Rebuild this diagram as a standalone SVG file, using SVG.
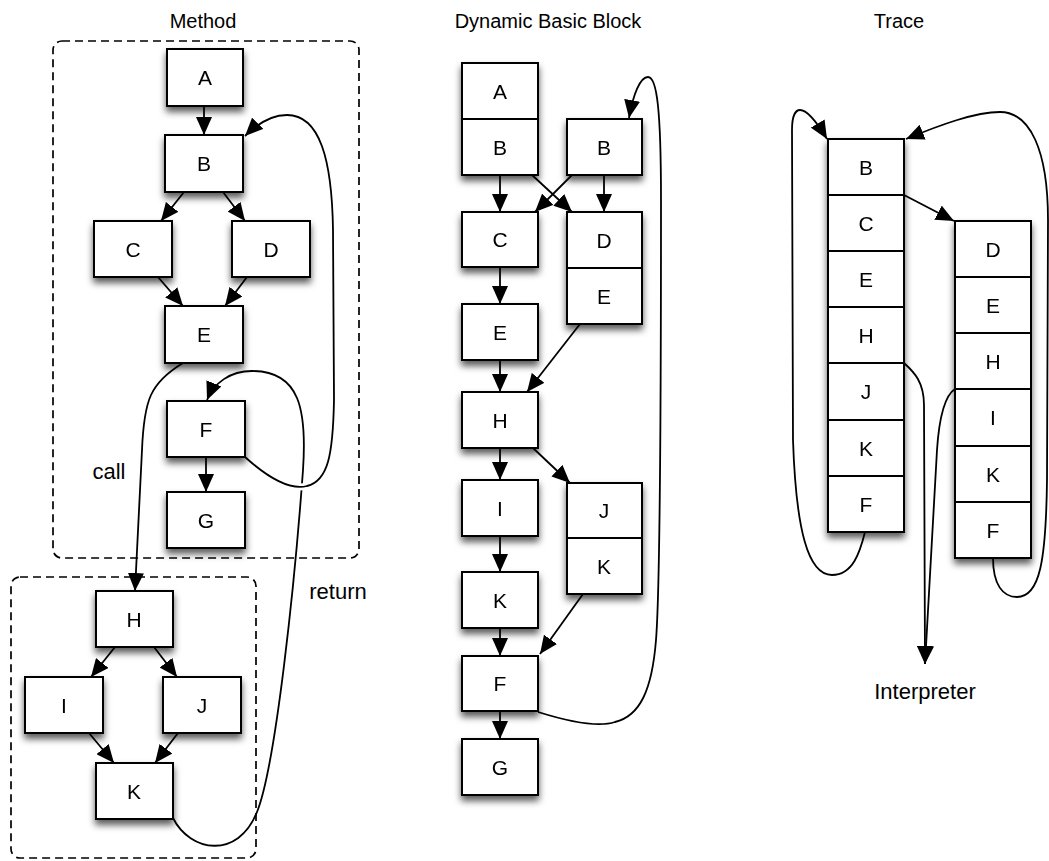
<svg xmlns="http://www.w3.org/2000/svg" width="1049" height="861" viewBox="0 0 1049 861">
  <style>
    .box { fill: #fff; stroke: #000; stroke-width: 2; }
    .div { stroke: #000; stroke-width: 2; fill: none; }
    .lbl { font-family: "Liberation Sans", Arial, sans-serif; font-size: 21px; fill: #000; text-anchor: middle; }
    .note { font-family: "Liberation Sans", Arial, sans-serif; font-size: 22px; fill: #000; text-anchor: middle; }
    .ttl { font-family: "Liberation Sans", Arial, sans-serif; font-size: 20px; fill: #000; text-anchor: middle; }
    .edge { fill: none; stroke: #000; stroke-width: 1.8; marker-end: url(#ah); }
    .halo { fill: none; stroke: #fff; stroke-width: 7; }
    .dash { fill: none; stroke: #000; stroke-width: 1.7; stroke-dasharray: 8 5; }
  </style>
  <defs>
    <filter id="sh" x="-40%" y="-40%" width="180%" height="180%">
      <feGaussianBlur in="SourceAlpha" stdDeviation="3.5"/>
      <feOffset dy="5" result="b"/>
      <feFlood flood-color="#000" flood-opacity="0.65"/>
      <feComposite in2="b" operator="in"/>
      <feMerge><feMergeNode/><feMergeNode in="SourceGraphic"/></feMerge>
    </filter>
    <marker id="ah" markerUnits="userSpaceOnUse" markerWidth="19" markerHeight="16" refX="18" refY="8" orient="auto" viewBox="0 0 19 16">
      <path d="M0,0 L18,8 L0,16 z" fill="#000"/>
    </marker>
  </defs>

  <rect width="1049" height="861" fill="#fff"/>

  <!-- column titles -->
  <text class="ttl" x="203" y="28">Method</text>
  <text class="ttl" x="548" y="28">Dynamic Basic Block</text>
  <text class="ttl" x="899" y="28">Trace</text>

  <!-- ===== Method ===== -->
  <rect id="method-outer" class="dash" x="53" y="41" width="306" height="517" rx="9"/>
  <rect id="method-callee" class="dash" x="11" y="577" width="245" height="281" rx="9"/>

  <g id="m-A" filter="url(#sh)"><rect class="box" x="167" y="49" width="76" height="57"/><text class="lbl" x="205" y="85">A</text></g>
  <g id="m-B" filter="url(#sh)"><rect class="box" x="165" y="135" width="78" height="57"/><text class="lbl" x="204" y="171">B</text></g>
  <g id="m-C" filter="url(#sh)"><rect class="box" x="94" y="221" width="78" height="56"/><text class="lbl" x="133" y="257">C</text></g>
  <g id="m-D" filter="url(#sh)"><rect class="box" x="232" y="221" width="78" height="56"/><text class="lbl" x="271" y="257">D</text></g>
  <g id="m-E" filter="url(#sh)"><rect class="box" x="165" y="306" width="78" height="57"/><text class="lbl" x="204" y="342">E</text></g>
  <g id="m-F" filter="url(#sh)"><rect class="box" x="167" y="401" width="78" height="56"/><text class="lbl" x="206" y="437">F</text></g>
  <g id="m-G" filter="url(#sh)"><rect class="box" x="167" y="492" width="78" height="56"/><text class="lbl" x="206" y="528">G</text></g>
  <g id="m-H" filter="url(#sh)"><rect class="box" x="96" y="591" width="77" height="56"/><text class="lbl" x="134" y="627">H</text></g>
  <g id="m-I" filter="url(#sh)"><rect class="box" x="25" y="677" width="78" height="56"/><text class="lbl" x="64" y="713">I</text></g>
  <g id="m-J" filter="url(#sh)"><rect class="box" x="163" y="677" width="78" height="56"/><text class="lbl" x="202" y="713">J</text></g>
  <g id="m-K" filter="url(#sh)"><rect class="box" x="96" y="763" width="77" height="56"/><text class="lbl" x="134" y="799">K</text></g>

  <text class="note" x="109" y="479">call</text>
  <text class="note" x="338" y="599">return</text>

  <!-- ===== Dynamic Basic Block ===== -->
  <g id="d-AB" filter="url(#sh)">
    <rect class="box" x="462" y="63" width="76" height="112"/>
    <line class="div" x1="462" y1="119" x2="538" y2="119"/>
    <text class="lbl" x="500" y="99">A</text>
    <text class="lbl" x="500" y="155">B</text>
  </g>
  <g id="d-B2" filter="url(#sh)"><rect class="box" x="567" y="119" width="75" height="56"/><text class="lbl" x="604" y="155">B</text></g>
  <g id="d-C" filter="url(#sh)"><rect class="box" x="462" y="212" width="76" height="55"/><text class="lbl" x="500" y="247">C</text></g>
  <g id="d-DE" filter="url(#sh)">
    <rect class="box" x="567" y="212" width="75" height="112"/>
    <line class="div" x1="567" y1="268" x2="642" y2="268"/>
    <text class="lbl" x="604" y="248">D</text>
    <text class="lbl" x="604" y="304">E</text>
  </g>
  <g id="d-E" filter="url(#sh)"><rect class="box" x="462" y="304" width="76" height="56"/><text class="lbl" x="500" y="340">E</text></g>
  <g id="d-H" filter="url(#sh)"><rect class="box" x="462" y="392" width="76" height="56"/><text class="lbl" x="500" y="428">H</text></g>
  <g id="d-I" filter="url(#sh)"><rect class="box" x="462" y="480" width="76" height="56"/><text class="lbl" x="500" y="516">I</text></g>
  <g id="d-JK" filter="url(#sh)">
    <rect class="box" x="567" y="483" width="75" height="111"/>
    <line class="div" x1="567" y1="538" x2="642" y2="538"/>
    <text class="lbl" x="604" y="518">J</text>
    <text class="lbl" x="604" y="574">K</text>
  </g>
  <g id="d-K" filter="url(#sh)"><rect class="box" x="462" y="572" width="76" height="56"/><text class="lbl" x="500" y="608">K</text></g>
  <g id="d-F" filter="url(#sh)"><rect class="box" x="462" y="656" width="76" height="55"/><text class="lbl" x="500" y="691">F</text></g>
  <g id="d-G" filter="url(#sh)"><rect class="box" x="462" y="739" width="76" height="56"/><text class="lbl" x="500" y="775">G</text></g>

  <!-- ===== Trace ===== -->
  <g id="t-main" filter="url(#sh)">
    <rect class="box" x="828" y="139" width="76" height="393"/>
    <path class="div" d="M828,195 H904 M828,251 H904 M828,307 H904 M828,363 H904 M828,420 H904 M828,476 H904"/>
    <text class="lbl" x="866" y="175">B</text>
    <text class="lbl" x="866" y="231">C</text>
    <text class="lbl" x="866" y="287">E</text>
    <text class="lbl" x="866" y="343">H</text>
    <text class="lbl" x="866" y="399">J</text>
    <text class="lbl" x="866" y="456">K</text>
    <text class="lbl" x="866" y="512">F</text>
  </g>
  <g id="t-side" filter="url(#sh)">
    <rect class="box" x="955" y="221" width="76" height="337"/>
    <path class="div" d="M955,277 H1031 M955,333 H1031 M955,389 H1031 M955,446 H1031 M955,502 H1031"/>
    <text class="lbl" x="993" y="257">D</text>
    <text class="lbl" x="993" y="313">E</text>
    <text class="lbl" x="993" y="369">H</text>
    <text class="lbl" x="993" y="425">I</text>
    <text class="lbl" x="993" y="482">K</text>
    <text class="lbl" x="993" y="538">F</text>
  </g>
  <text class="note" x="925" y="699">Interpreter</text>

  <!-- ===== connectors ===== -->
  <g id="connectors">
    <!-- method -->
    <path class="edge" d="M204,106 L204,135"/>
    <path class="edge" d="M184,192 L161,221"/>
    <path class="edge" d="M223,192 L245,221"/>
    <path class="edge" d="M158,277 L183,306"/>
    <path class="edge" d="M247,277 L225,306"/>
    <path class="edge" d="M206,457 L206,492"/>
    <path class="edge" d="M115,647 L91,677"/>
    <path class="edge" d="M154,647 L177,677"/>
    <path class="edge" d="M89,733 L114,763"/>
    <path class="edge" d="M178,733 L155,763"/>
    <!-- call -->
    <path class="edge" d="M183,363 C150,383 144,400 142,450 L135,591"/>
    <!-- return -->
    <path class="edge" d="M173,818 C190,852 238,860 257,812 C276,765 295,580 303,470 C307,410 300,371 252,371 C230,371 214,383 207,400"/>
    <!-- loop back to B, drawn over the return line -->
    <path class="halo" d="M262,470 C280,485 295,489 307,486 C326,481 331,460 332,430"/>
    <path class="edge" d="M245,457 C265,475 288,491 307,486 C328,481 333,455 334,400 L333,230 C332,160 320,115 287,115 C270,115 256,125 245,136"/>

    <!-- dynamic basic block -->
    <path class="edge" d="M500,175 L500,212"/>
    <path class="edge" d="M532,175 L572,212"/>
    <path class="edge" d="M572,175 L535,212"/>
    <path class="edge" d="M604,175 L604,212"/>
    <path class="edge" d="M500,267 L500,304"/>
    <path class="edge" d="M500,360 L500,392"/>
    <path class="edge" d="M580,324 L527,392"/>
    <path class="edge" d="M500,448 L500,480"/>
    <path class="edge" d="M533,448 L570,483"/>
    <path class="edge" d="M500,536 L500,572"/>
    <path class="edge" d="M583,594 L540,654"/>
    <path class="edge" d="M500,628 L500,656"/>
    <path class="edge" d="M500,711 L500,739"/>
    <path class="edge" d="M538,712 C570,722 600,727 615,722 C640,716 652,690 656,640 C660,590 661,400 661,200 C661,110 657,77 648,77 C640,77 633,95 629,118"/>

    <!-- trace -->
    <path class="edge" d="M904,195 L954,221"/>
    <path class="edge" d="M865,532 C860,552 853,575 832,575 C808,575 796,530 793,440 L792,130 C792,115 796,110 800,110 C808,110 818,124 827,139"/>
    <path class="edge" d="M993,558 C993,585 1003,597 1017,597 C1040,597 1046,560 1047,480 L1048,220 C1048,150 1030,112 1000,112 C975,112 940,125 906,139"/>
    <path class="edge" d="M904,363 C914,372 924,382 924,405 L925,664"/>
    <path class="edge" d="M955,389 C944,396 939,420 937,450 L925,664"/>
  </g>
</svg>
